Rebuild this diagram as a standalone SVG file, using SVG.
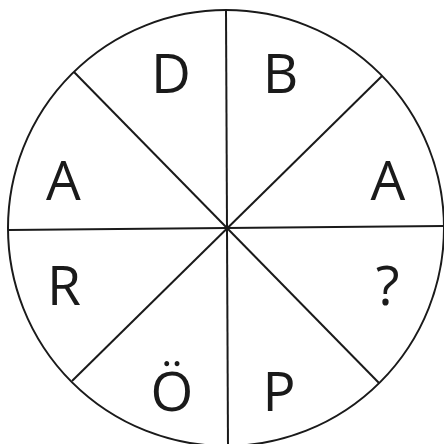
<svg xmlns="http://www.w3.org/2000/svg" width="444" height="444" viewBox="0 0 444 444">
<style>
.ln{stroke:#1a1a1a;stroke-width:2;fill:none}
.t{font-family:"Open Sans","Liberation Sans",sans-serif;font-size:55px;fill:#1a1a1a;text-anchor:middle}
</style>
<rect width="444" height="444" fill="#fff"/>
<g id="connectors">
<circle class="ln" cx="226" cy="228" r="218"/>
<line class="ln" x1="226" y1="10" x2="228" y2="446"/>
<line class="ln" x1="9" y1="230" x2="444" y2="226"/>
<line class="ln" x1="74" y1="72" x2="379" y2="383"/>
<line class="ln" x1="382" y1="76" x2="72" y2="381"/>
</g>
<g id="s1"><text class="t" x="171" y="93">D</text></g>
<g id="s2"><text class="t" x="280.5" y="93">B</text></g>
<g id="s3"><text class="t" x="63.5" y="200">A</text></g>
<g id="s4"><text class="t" x="388" y="200">A</text></g>
<g id="s5"><text class="t" x="64" y="305">R</text></g>
<g id="s6"><text class="t" x="387.5" y="305">?</text></g>
<g id="s7"><text class="t" x="172" y="411">Ö</text></g>
<g id="s8"><text class="t" x="279" y="411">P</text></g>
</svg>
